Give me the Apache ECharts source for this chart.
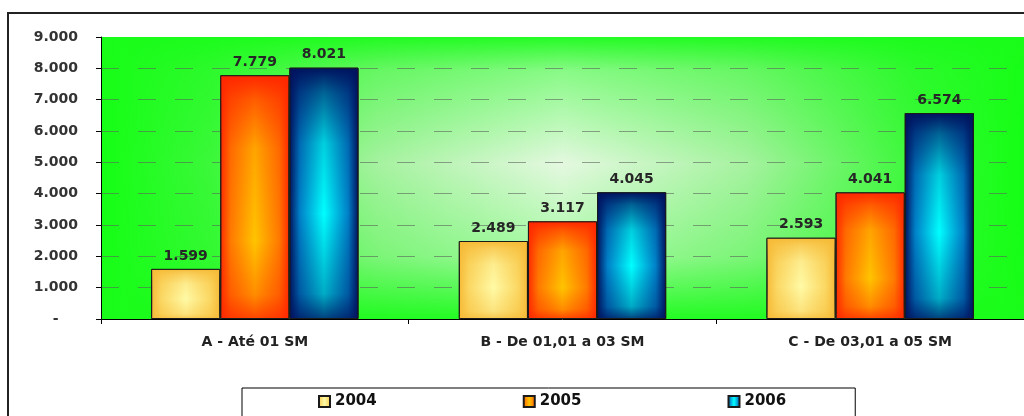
<!DOCTYPE html>
<html lang="pt-BR">
<head>
<meta charset="utf-8">
<title>Faixas de renda 2004 - 2006</title>
<script src="https://cdn.jsdelivr.net/npm/echarts@6/dist/echarts.min.js"></script>
<style>
  html, body { margin: 0; padding: 0; background: #fff; }
  #grafico { width: 1024px; height: 416px; }
</style>
</head>
<body>
<div id="grafico"></div>
<script>
// Dados do gráfico
const categorias = ['A - Até 01 SM', 'B - De 01,01 a 03 SM', 'C - De 03,01 a 05 SM'];
const anos = ['2004', '2005', '2006'];
const valores2004 = [1599, 2489, 2593];
const valores2005 = [7779, 3117, 4041];
const valores2006 = [8021, 4045, 6574];
const eixoMin = 0;
const eixoMax = 9000;
const eixoIntervalo = 1000;

// Cores (borda do degradê / meio / centro do degradê)
const corBorda = ['#f6ba36', '#ff2a00', '#00125e'];
const corMeio = ['#fbd864', '#ff7a00', '#0080c8'];
const corCentro = ['#fffaa6', '#ffc400', '#00ffff'];
const rgbTopo = ['246,186,54', '255,38,0', '0,18,94'];
const posCentro = [0.6, 0.68, 0.58];

const fonte = '"DejaVu Sans", sans-serif';

// Número no formato brasileiro: 1.599
function formatarNumero(v) {
    return String(v).replace(/\B(?=(\d{3})+(?!\d))/g, '.');
}

function degradeHorizontal(i) {
    return new echarts.graphic.LinearGradient(0, 0, 1, 0, [
        { offset: 0, color: corBorda[i] },
        { offset: 0.15, color: corMeio[i] },
        { offset: 0.5, color: corCentro[i] },
        { offset: 0.85, color: corMeio[i] },
        { offset: 1, color: corBorda[i] }
    ]);
}

// escurece topo e base da barra (efeito "do centro" do Excel)
function degradeVertical(i) {
    const c = rgbTopo[i];
    return new echarts.graphic.LinearGradient(0, 0, 0, 1, [
        { offset: 0, color: 'rgba(' + c + ',1)' },
        { offset: 0.1, color: 'rgba(' + c + ',0.65)' },
        { offset: 0.3, color: 'rgba(' + c + ',0.2)' },
        { offset: posCentro[i], color: 'rgba(' + c + ',0)' },
        { offset: 0.9, color: 'rgba(' + c + ',0.35)' },
        { offset: 1, color: 'rgba(' + c + ',0.8)' }
    ]);
}

const grafico = echarts.init(document.getElementById('grafico'));

const valores = [valores2004, valores2005, valores2006];

// Barras principais (com rótulos) e camada de sombreamento vertical por cima
const series = [];
anos.forEach(function (ano, i) {
    series.push({
        name: ano,
        type: 'bar',
        data: valores[i],
        barGap: '0%',
        barCategoryGap: '32.6%',
        itemStyle: {
            color: degradeHorizontal(i),
            borderColor: '#1a1a1a',
            borderWidth: 1
        },
        label: {
            show: true,
            position: 'top',
            distance: 6,
            fontFamily: fonte,
            fontWeight: 'bold',
            fontSize: 14,
            color: '#262626',
            formatter: function (p) { return formatarNumero(p.value); }
        },
        z: 2
    });
});
anos.forEach(function (ano, i) {
    series.push({
        name: ano + ' sombra',
        type: 'bar',
        xAxisIndex: 1,
        data: valores[i],
        barGap: '0%',
        barCategoryGap: '32.6%',
        silent: true,
        itemStyle: {
            color: degradeVertical(i),
            borderColor: '#1a1a1a',
            borderWidth: 1
        },
        z: 3
    });
});

const gridLeft = 101, gridTop = 37, gridWidth = 925, gridHeight = 282;

const opcao = {
    animation: false,
    textStyle: { fontFamily: fonte },
    grid: {
        left: gridLeft,
        top: gridTop,
        width: gridWidth,
        height: gridHeight,
        show: true,
        borderWidth: 0,
        backgroundColor: new echarts.graphic.LinearGradient(0, 0, 1, 0, [
            { offset: 0, color: '#14ff14' },
            { offset: 0.12, color: '#3cf83a' },
            { offset: 0.3, color: '#a6f2a0' },
            { offset: 0.5, color: '#e4f8e0' },
            { offset: 0.7, color: '#a6f2a0' },
            { offset: 0.88, color: '#3cf83a' },
            { offset: 1, color: '#14ff14' }
        ])
    },
    graphic: [
        {
            // sombreamento vertical do fundo
            type: 'rect',
            z: 0,
            silent: true,
            shape: { x: gridLeft, y: gridTop, width: gridWidth, height: gridHeight },
            style: {
                fill: new echarts.graphic.LinearGradient(0, 0, 0, 1, [
                    { offset: 0, color: 'rgba(26,252,26,0.95)' },
                    { offset: 0.12, color: 'rgba(26,252,26,0.45)' },
                    { offset: 0.45, color: 'rgba(26,252,26,0)' },
                    { offset: 0.78, color: 'rgba(26,252,26,0.3)' },
                    { offset: 1, color: 'rgba(26,252,26,0.95)' }
                ])
            }
        },
        {
            // moldura externa
            type: 'rect',
            z: 10,
            silent: true,
            shape: { x: 8, y: 13, width: 1040, height: 440 },
            style: { fill: 'none', stroke: '#222', lineWidth: 2 }
        }
    ],
    legend: {
        data: anos,
        left: 242,
        top: 388,
        padding: [6, 69, 30, 76],
        itemGap: 146,
        itemWidth: 11,
        itemHeight: 11,
        icon: 'rect',
        borderColor: '#000',
        borderWidth: 1,
        backgroundColor: '#fff',
        textStyle: {
            fontFamily: fonte,
            fontWeight: 'bold',
            fontSize: 15,
            color: '#111'
        }
    },
    xAxis: [
        {
            type: 'category',
            data: categorias,
            z: 1,
            axisLine: { lineStyle: { color: '#000', width: 1 } },
            axisTick: { show: true, length: 5, lineStyle: { color: '#000' } },
            axisLabel: {
                margin: 16,
                fontFamily: fonte,
                fontWeight: 'bold',
                fontSize: 14,
                color: '#222'
            }
        },
        {
            type: 'category',
            data: categorias,
            show: false
        }
    ],
    yAxis: {
        type: 'value',
        min: eixoMin,
        max: eixoMax,
        interval: eixoIntervalo,
        z: 1,
        axisLine: { show: true, lineStyle: { color: '#000', width: 1 } },
        axisTick: { show: true, length: 5, lineStyle: { color: '#000' } },
        axisLabel: {
            margin: 23,
            fontFamily: fonte,
            fontWeight: 'bold',
            fontSize: 14,
            color: '#333',
            formatter: function (v) {
                return v === 0 ? '-    ' : formatarNumero(v);
            }
        },
        splitLine: {
            show: true,
            showMinLine: false,
            showMaxLine: false,
            lineStyle: { color: 'rgba(90,100,90,0.6)', width: 1, type: [18, 19] }
        }
    },
    series: series
};

grafico.setOption(opcao);
</script>
</body>
</html>
